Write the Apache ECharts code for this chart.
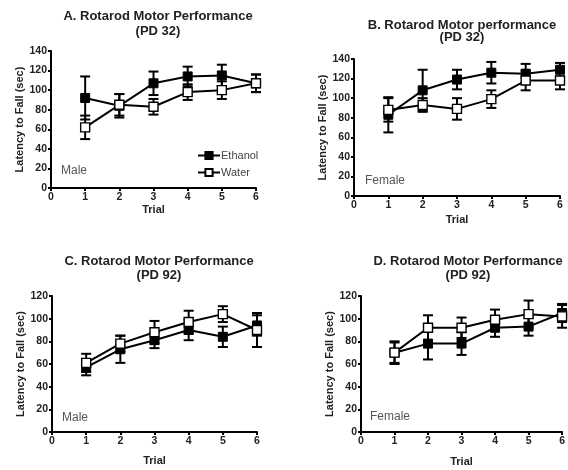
<!DOCTYPE html>
<html>
<head>
<meta charset="utf-8">
<script src="https://cdn.jsdelivr.net/npm/echarts@6/dist/echarts.min.js"></script>
<style>
  html, body { margin: 0; padding: 0; background: #fff; }
  #chart { width: 568px; height: 470px; }
</style>
</head>
<body>
<div id="chart"></div>
<script>
const trials = [1, 2, 3, 4, 5, 6];
const xTicks = [0, 1, 2, 3, 4, 5, 6];

// A. PD 32, male
const aEthanol = [92, 84, 107, 114, 115, 107];
const aEthanolErr = [22, 12, 12, 10, 11, 9];
const aWater = [62, 85, 83, 98, 100, 107];
const aWaterErr = [12, 11, 8, 8, 9, 9];

// B. PD 32, female
const bEthanol = [83, 108, 119, 126, 125, 129];
const bEthanolErr = [18, 21, 10, 11, 10, 7];
const bWater = [88, 93, 89, 99, 118, 118];
const bWaterErr = [12, 7, 11, 9, 10, 9];

// C. PD 92, male
const cEthanol = [57, 73, 81, 90, 84, 94];
const cEthanolErr = [7, 12, 7, 9, 9, 9];
const cWater = [61, 78, 88, 97, 104, 90];
const cWaterErr = [8, 7, 10, 10, 7, 15];

// D. PD 92, female
const dEthanol = [70, 78, 78, 92, 93, 105];
const dEthanolErr = [10, 14, 10, 8, 8, 8];
const dWater = [70, 92, 92, 99, 104, 102];
const dWaterErr = [9, 11, 9, 9, 12, 10];

const font = 'Liberation Sans, Arial, sans-serif';

const panels = [
  { title: 'A. Rotarod Motor Performance\n(PD 32)', tx: 153, ty: 4, lh: 15, sex: 'Male', sx: 61, sy: 173,
    grid: { left: 51, top: 51, width: 205, height: 137 }, yMax: 140, xGap: 16,
    eth: aEthanol, ethErr: aEthanolErr, wat: aWater, watErr: aWaterErr },
  { title: 'B. Rotarod Motor performance\n(PD 32)', tx: 457, ty: 14, lh: 12, sex: 'Female', sx: 365, sy: 183,
    grid: { left: 354, top: 59, width: 206, height: 137 }, yMax: 140, xGap: 18,
    eth: bEthanol, ethErr: bEthanolErr, wat: bWater, watErr: bWaterErr },
  { title: 'C. Rotarod Motor Performance\n(PD 92)', tx: 154, ty: 249, lh: 14, sex: 'Male', sx: 62, sy: 420,
    grid: { left: 52, top: 296, width: 205, height: 136 }, yMax: 120, xGap: 23,
    eth: cEthanol, ethErr: cEthanolErr, wat: cWater, watErr: cWaterErr },
  { title: 'D. Rotarod Motor Performance\n(PD 92)', tx: 463, ty: 249, lh: 14, sex: 'Female', sx: 370, sy: 419,
    grid: { left: 361, top: 296, width: 204, height: 136 }, yMax: 120, xGap: 24,
    eth: dEthanol, ethErr: dEthanolErr, wat: dWater, watErr: dWaterErr }
];

function errData(vals, errs) {
  return trials.map((t, i) => [t, vals[i] - errs[i], vals[i] + errs[i]]);
}

function renderErr(params, api) {
  const x = api.value(0);
  const top = api.coord([x, api.value(2)]);
  const bot = api.coord([x, api.value(1)]);
  const w = 5;
  const style = { stroke: '#000', lineWidth: 2 };
  return {
    type: 'group',
    children: [
      { type: 'line', shape: { x1: top[0], y1: top[1], x2: bot[0], y2: bot[1] }, style },
      { type: 'line', shape: { x1: top[0] - w, y1: top[1], x2: top[0] + w, y2: top[1] }, style },
      { type: 'line', shape: { x1: bot[0] - w, y1: bot[1], x2: bot[0] + w, y2: bot[1] }, style }
    ]
  };
}

const axisCommon = {
  axisLine: { show: true, onZero: false, lineStyle: { color: '#000', width: 2 } },
  axisTick: { show: true, length: 3, lineStyle: { color: '#000', width: 2 } },
  axisLabel: { fontFamily: font, fontSize: 10.5, fontWeight: 'bold', color: '#222', margin: 4 },
  splitLine: { show: false },
  nameTextStyle: { fontFamily: font, fontSize: 11, fontWeight: 'bold', color: '#222' }
};

const option = {
  animation: false,
  backgroundColor: '#fff',
  title: panels.map(p => ({
    text: p.title,
    left: p.tx,
    top: p.ty,
    textAlign: 'center',
    textStyle: { fontFamily: font, fontSize: 13, fontWeight: 'bold', color: '#222', lineHeight: p.lh }
  })),
  legend: {
    data: ['Ethanol', 'Water'],
    orient: 'vertical',
    left: 192,
    top: 145,
    itemWidth: 22,
    itemHeight: 9,
    itemGap: 6,
    textStyle: { fontFamily: font, fontSize: 11, color: '#444', padding: [0, 0, 0, -4] }
  },
  grid: panels.map(p => p.grid),
  xAxis: panels.map((p, i) => Object.assign({}, axisCommon, {
    type: 'value', gridIndex: i, min: xTicks[0], max: xTicks[xTicks.length - 1], interval: 1,
    name: 'Trial', nameLocation: 'middle', nameGap: p.xGap
  })),
  yAxis: panels.map((p, i) => Object.assign({}, axisCommon, {
    type: 'value', gridIndex: i, min: 0, max: p.yMax, interval: 20,
    name: 'Latency to Fall (sec)', nameLocation: 'middle', nameGap: 26
  })),
  graphic: panels.map(p => ({
    type: 'text', left: p.sx, top: p.sy - 8,
    style: { text: p.sex, fontFamily: font, fontSize: 12, fill: '#555' }
  })),
  series: []
};

panels.forEach((p, i) => {
  option.series.push(
    { type: 'custom', xAxisIndex: i, yAxisIndex: i, renderItem: renderErr,
      data: errData(p.eth, p.ethErr), encode: { x: 0, y: [1, 2] }, z: 1, silent: true },
    { type: 'custom', xAxisIndex: i, yAxisIndex: i, renderItem: renderErr,
      data: errData(p.wat, p.watErr), encode: { x: 0, y: [1, 2] }, z: 1, silent: true },
    { name: 'Ethanol', type: 'line', xAxisIndex: i, yAxisIndex: i, z: 3,
      data: trials.map((t, j) => [t, p.eth[j]]),
      symbol: 'rect', symbolSize: 9, showAllSymbol: true,
      lineStyle: { color: '#000', width: 2 },
      itemStyle: { color: '#000', borderColor: '#000', borderWidth: 1 } },
    { name: 'Water', type: 'line', xAxisIndex: i, yAxisIndex: i, z: 4,
      data: trials.map((t, j) => [t, p.wat[j]]),
      symbol: 'rect', symbolSize: 9, showAllSymbol: true,
      lineStyle: { color: '#000', width: 2 },
      itemStyle: { color: '#fff', borderColor: '#000', borderWidth: 1.4 } }
  );
});

const chart = echarts.init(document.getElementById('chart'), null, { renderer: 'canvas' });
chart.setOption(option);
</script>
</body>
</html>
